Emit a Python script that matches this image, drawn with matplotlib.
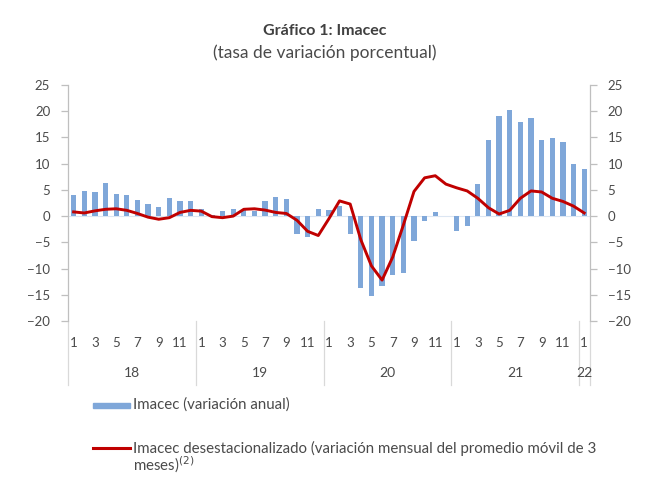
import numpy as np
import matplotlib
matplotlib.use('Agg')
import matplotlib.pyplot as plt
from matplotlib.patches import Rectangle
from matplotlib.lines import Line2D
import matplotlib.transforms as mtransforms

plt.rcParams['font.family'] = ['Lato', 'DejaVu Sans']

# meses ene-2018 .. ene-2022
years = ['18', '19', '20', '21', '22']
imacec_anual = [4.0, 4.7, 4.6, 6.3, 4.2, 4.1, 3.0, 2.4, 1.7, 3.5, 2.8, 2.8,
                1.3, 0.2, 1.0, 1.3, 1.2, 1.0, 2.9, 3.7, 3.3, -3.5, -3.9, 1.3,
                1.1, 1.9, -3.4, -13.7, -15.2, -13.4, -11.2, -10.8, -4.7, -1.0, 0.8, 0.1,
                -2.8, -1.9, 6.2, 14.6, 19.0, 20.3, 17.9, 18.7, 14.6, 14.8, 14.1, 10.0,
                8.9]
imacec_desest = [0.8, 0.6, 1.0, 1.3, 1.4, 1.1, 0.5, -0.2, -0.6, -0.3, 0.7, 1.1,
                 0.95, -0.1, -0.3, 0.0, 1.3, 1.4, 1.15, 0.7, 0.5, -0.8, -2.9, -3.7,
                 -0.5, 2.9, 2.3, -4.5, -9.5, -12.2, -7.8, -1.7, 4.7, 7.3, 7.7, 6.1,
                 5.4, 4.8, 3.4, 1.6, 0.4, 1.1, 3.4, 4.8, 4.6, 3.4, 2.8, 1.9,
                 0.6]

bar_color = '#7FA7D9'
line_color = '#C00000'
txt = '#4A4A4A'
axis_gray = '#BFBFBF'

n = len(imacec_anual)
x = np.arange(n)

fig = plt.figure(figsize=(6.5, 4.87), dpi=100)
ax = fig.add_axes([68.3 / 650, 1 - 321 / 487, (589.5 - 68.3) / 650, (321 - 85) / 487])

ax.axhline(0, color='#DCE6F2', lw=0.8, zorder=1)
ax.bar(x, imacec_anual, width=0.5, color=bar_color, zorder=2)
ax.plot(x, imacec_desest, color=line_color, lw=2.1, zorder=3,
        solid_joinstyle='round')

ax.set_xlim(-0.5, n - 0.5)
ax.set_ylim(-20, 25)
ax.set_yticks(np.arange(-20, 26, 5))
ax.set_xticks([])
for s in ['top', 'bottom']:
    ax.spines[s].set_visible(False)
for s in ['left', 'right']:
    ax.spines[s].set_color(axis_gray)
    ax.spines[s].set_linewidth(0.9)
ax.tick_params(axis='y', which='both', left=True, right=True, labelleft=True,
               labelright=True, direction='out', length=5, width=0.9,
               color=axis_gray, labelcolor=txt, labelsize=9.5, pad=8)

# eje de categorias de dos niveles
trans = mtransforms.blended_transform_factory(ax.transData, ax.transAxes)
for i in range(0, n, 2):
    ax.text(i, -0.092, str(i % 12 + 1), transform=trans, ha='center', va='center',
            fontsize=9.5, color=txt)
bounds = [-0.5, 11.5, 23.5, 35.5, 47.5, 48.5]
for b in bounds:
    ax.add_line(Line2D([b, b], [0, -0.27], transform=trans, color='#D9D9D9',
                       lw=0.9, clip_on=False))
for k, yr in enumerate(years):
    c = (bounds[k] + bounds[k + 1]) / 2
    ax.text(c, -0.22, yr, transform=trans, ha='center', va='center',
            fontsize=10, color=txt)

fig.text(0.5, 1 - 31 / 487, 'Gráfico 1: Imacec', ha='center', va='center',
         fontsize=11.5, fontweight='bold', color='#404040')
fig.text(0.5, 1 - 53 / 487, '(tasa de variación porcentual)', ha='center',
         va='center', fontsize=12.5, color=txt)

# leyenda
fig.patches.append(Rectangle((93 / 650, 1 - 408 / 487), 37 / 650, 5 / 487,
                             transform=fig.transFigure, color=bar_color))
fig.text(133 / 650, 1 - 405 / 487, 'Imacec (variación anual)', ha='left',
         va='center', fontsize=10.8, color=txt)
fig.lines.append(Line2D([93 / 650, 130 / 650], [1 - 448 / 487, 1 - 448 / 487],
                        transform=fig.transFigure, color=line_color, lw=2.2))
fig.text(133 / 650, 1 - 448 / 487,
         'Imacec desestacionalizado (variación mensual del promedio móvil de 3',
         ha='left', va='center', fontsize=10.8, color=txt)
fig.text(133 / 650, 1 - 465 / 487, r'meses)$^{(2)}$', ha='left', va='center',
         fontsize=10.8, color=txt)

fig.savefig('out.png', dpi=100)
